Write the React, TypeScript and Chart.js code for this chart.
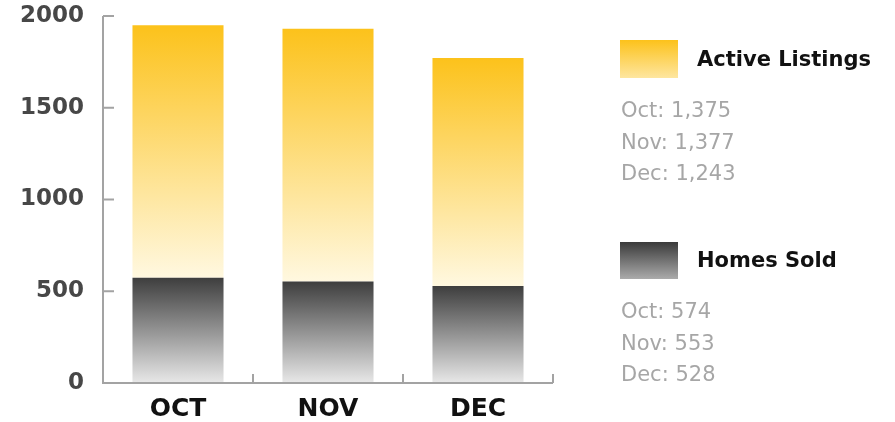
import React, { useEffect, useRef } from "react";
import { Chart, registerables } from "chart.js";

Chart.register(...registerables);

const categories = ["OCT", "NOV", "DEC"];
const legendMonths = ["Oct", "Nov", "Dec"];
const homesSold = [574, 553, 528];
const activeListings = [1375, 1377, 1243];
const yMin = 0;
const yMax = 2000;
const yStep = 500;

const FONT = "'DejaVu Sans', sans-serif";

const axisPlugin = {
  id: "customAxes",
  afterDraw(chart: any) {
    const { ctx } = chart;
    const x = chart.scales.x;
    const y = chart.scales.y;
    const left = chart.chartArea.left;
    const right = chart.chartArea.right;
    const y0 = y.getPixelForValue(yMin);
    const yTop = y.getPixelForValue(yMax);
    ctx.save();
    ctx.strokeStyle = "#a3a3a3";
    ctx.lineWidth = 2;
    ctx.beginPath();
    ctx.moveTo(left, yTop);
    ctx.lineTo(left, y0);
    ctx.lineTo(right, y0);
    y.ticks.forEach((t: any) => {
      const py = y.getPixelForValue(t.value);
      ctx.moveTo(left, py);
      ctx.lineTo(left + 11, py);
    });
    for (let i = 0; i < categories.length; i++) {
      const px = x.getPixelForValue(i) + (x.getPixelForValue(1) - x.getPixelForValue(0)) / 2;
      ctx.moveTo(px, y0);
      ctx.lineTo(px, y0 - 9);
    }
    ctx.stroke();
    ctx.restore();
  },
};

function gradientFor(ctx: any, colors: [string, string], lowValue: (i: number) => number, highValue: (i: number) => number) {
  const chart = ctx.chart;
  const y = chart.scales?.y;
  if (!chart.chartArea || !y || ctx.dataIndex === undefined) return colors[0];
  const i = ctx.dataIndex;
  const top = y.getPixelForValue(highValue(i));
  const bottom = y.getPixelForValue(lowValue(i));
  if (!isFinite(top) || !isFinite(bottom) || top === bottom) return colors[0];
  const g = chart.ctx.createLinearGradient(0, top, 0, bottom);
  g.addColorStop(0, colors[0]);
  g.addColorStop(1, colors[1]);
  return g;
}

export default function App() {
  const canvasRef = useRef<HTMLCanvasElement | null>(null);

  useEffect(() => {
    if (!canvasRef.current) return;
    const chart = new Chart(canvasRef.current, {
      type: "bar",
      data: {
        labels: categories,
        datasets: [
          {
            label: "Homes Sold",
            data: homesSold,
            backgroundColor: (c: any) =>
              gradientFor(c, ["#3e3e3e", "#e8e8e8"], () => 0, (i) => homesSold[i]),
            borderWidth: 0,
          },
          {
            label: "Active Listings",
            data: activeListings,
            backgroundColor: (c: any) =>
              gradientFor(c, ["#fcc21b", "#fff8e0"], (i) => homesSold[i], (i) => homesSold[i] + activeListings[i]),
            borderWidth: 0,
          },
        ],
      },
      options: {
        animation: false,
        responsive: false,
        maintainAspectRatio: false,
        layout: { padding: { top: 16, right: 342, left: 0, bottom: 0 } },
        plugins: { legend: { display: false }, tooltip: { enabled: false } },
        datasets: { bar: { categoryPercentage: 1, barPercentage: 0.607 } },
        scales: {
          x: {
            stacked: true,
            grid: { display: false, drawTicks: false },
            border: { display: false },
            ticks: {
              color: "#111111",
              font: { family: FONT, size: 25, weight: "bold" },
              padding: 11,
            },
            afterFit: (s: any) => {
              s.height = 39;
              s.paddingLeft = 0;
              s.paddingRight = 0;
            },
          },
          y: {
            stacked: true,
            min: yMin,
            max: yMax,
            grid: { display: false, drawTicks: false },
            border: { display: false },
            ticks: {
              stepSize: yStep,
              color: "#474747",
              font: { family: FONT, size: 23, weight: "bold" },
              padding: 19,
              callback: (v: any) => String(v),
            },
            afterFit: (s: any) => {
              s.width = 103;
              s.paddingTop = 0;
              s.paddingBottom = 0;
            },
          },
        },
      },
      plugins: [axisPlugin],
    });
    return () => chart.destroy();
  }, []);

  const legendTitle: React.CSSProperties = {
    position: "absolute",
    left: 697,
    fontFamily: FONT,
    fontWeight: 700,
    fontSize: 21,
    color: "#111",
    lineHeight: "20px",
    whiteSpace: "nowrap",
  };
  const valueStyle: React.CSSProperties = {
    position: "absolute",
    left: 621,
    fontFamily: FONT,
    fontSize: 21,
    color: "#a6a6a6",
    lineHeight: "20px",
    whiteSpace: "nowrap",
  };

  const activeRows = [110, 142, 173];
  const soldRows = [311, 343, 374];

  return (
    <div style={{ position: "fixed", left: 0, top: 0, width: 895, height: 422, background: "#fff" }}>
      <canvas ref={canvasRef} width={895} height={422} style={{ position: "absolute", left: 0, top: 0 }} />
      <div
        style={{
          position: "absolute",
          left: 620,
          top: 40,
          width: 58,
          height: 38,
          background: "linear-gradient(#fcc21b, #fee6a0)",
        }}
      />
      <div style={{ ...legendTitle, top: 49 }}>Active Listings</div>
      {legendMonths.map((m, i) => (
        <div key={"a" + m} style={{ ...valueStyle, top: activeRows[i] - 10 }}>
          {m}: {activeListings[i].toLocaleString("en-US")}
        </div>
      ))}
      <div
        style={{
          position: "absolute",
          left: 620,
          top: 242,
          width: 58,
          height: 37,
          background: "linear-gradient(#3a3a3a, #ababab)",
        }}
      />
      <div style={{ ...legendTitle, top: 250 }}>Homes Sold</div>
      {legendMonths.map((m, i) => (
        <div key={"s" + m} style={{ ...valueStyle, top: soldRows[i] - 10 }}>
          {m}: {homesSold[i].toLocaleString("en-US")}
        </div>
      ))}
    </div>
  );
}
